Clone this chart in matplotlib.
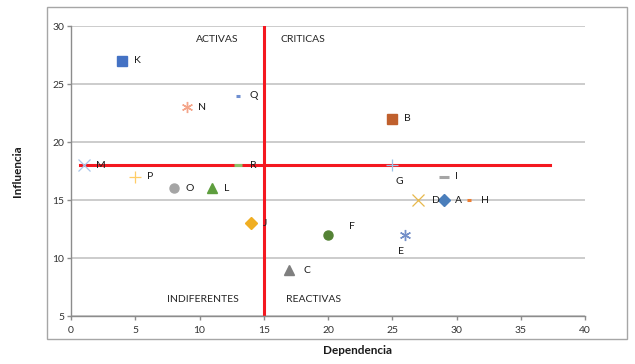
import matplotlib
matplotlib.use("Agg")
import matplotlib.pyplot as plt
from matplotlib.patches import Rectangle

plt.rcParams['font.family'] = ['Lato', 'DejaVu Sans']

names = ['A', 'B', 'C', 'D', 'E', 'F', 'G', 'H', 'I', 'J', 'K', 'L', 'M', 'N', 'O', 'P', 'Q', 'R']
dependencia = [29, 25, 17, 27, 26, 20, 25, 31, 29, 14, 4, 11, 1, 9, 8, 5, 13, 13]
influencia = [15, 22, 9, 15, 12, 12, 18, 15, 17, 13, 27, 16, 18, 23, 16, 17, 24, 18]

STAR = (6, 2, 0)
markers = ['D', 's', '^', 'x', STAR, 'o', '+', '_', '_', 'D', 's', '^', 'x', STAR, 'o', '+', '_', '_']
colors = ['#4A7EBB', '#C0602D', '#7F7F7F', '#E8B84A', '#7590C8', '#548235', '#9DC3E6', '#ED7D31', '#A5A5A5',
          '#F0AE22', '#4472C4', '#5E9E3E', '#A9C5EA', '#F4A58A', '#A5A5A5', '#FFCD66', '#6F8FD0', '#8CC168']
msizes = [6, 6.5, 6.5, 8, 8, 6.5, 8, 3.5, 7, 6, 6.5, 6.5, 8, 8, 6.5, 8, 3, 6]
mews = [1, 1, 1, 0.9, 1.0, 1, 0.9, 2.2, 2.2, 1, 1, 1, 0.9, 1.0, 1, 0.9, 2.2, 2.2]

# label offsets in points (dx, dy), default right of marker
offsets = {n: (8.5, 0) for n in names}
offsets['G'] = (5, -11.5)
offsets['E'] = (-3, -12)
offsets['F'] = (15, 6)
offsets['C'] = (10, -0.5)
offsets['D'] = (10, 0)

quadrants = ['ACTIVAS', 'CRITICAS', 'INDIFERENTES', 'REACTIVAS']
quad_x = [11.36, 18.05, 10.27, 18.9]
quad_y = [28.8, 28.8, 6.38, 6.38]

cut_x = 15
cut_y = 18

fig = plt.figure(figsize=(6.35, 3.64), dpi=100)
ax = fig.add_axes([71/635, 1-316/364, (585-71)/635, (316-26)/364])

fig.patches.append(Rectangle((47/635, 1-339/364), 580/635, 332/364, transform=fig.transFigure,
                             fill=False, edgecolor='#A6A6A6', linewidth=1.0))

ax.set_xlim(0, 40)
ax.set_ylim(5, 30)
ax.set_xticks(range(0, 41, 5))
ax.set_yticks(range(5, 31, 5))
ax.yaxis.grid(True, color='#C8C8C8', linewidth=1.3)
ax.set_axisbelow(True)
for s in ['top', 'right']:
    ax.spines[s].set_visible(False)
for s in ['left', 'bottom']:
    ax.spines[s].set_color('#8C8C8C')
    ax.spines[s].set_linewidth(1.0)
ax.tick_params(axis='both', colors='#8C8C8C', labelcolor='#333333', labelsize=7.5, length=3, width=1)
ax.tick_params(axis='y', pad=2)
ax.tick_params(axis='x', pad=4)

ax.plot([cut_x, cut_x], [5, 30], color='#F41820', linewidth=2.2, zorder=2)
ax.plot([0.7, 37.3], [cut_y, cut_y], color='#F41820', linewidth=2.2, zorder=2)

for n, x, y, m, c, ms, mew in zip(names, dependencia, influencia, markers, colors, msizes, mews):
    if m in ['x', '+', '_', STAR]:
        ax.plot([x], [y], linestyle='none', marker=m, markersize=ms, color=c, markeredgewidth=mew, zorder=3)
    else:
        ax.plot([x], [y], linestyle='none', marker=m, markersize=ms, color=c, markeredgecolor=c, zorder=3)
    dx, dy = offsets[n]
    ax.annotate(n, (x, y), xytext=(dx, dy), textcoords='offset points', fontsize=7.5,
                color='#1A1A1A', va='center', ha='center' if n in ('G', 'E') else 'left', zorder=4)

for t, x, y in zip(quadrants, quad_x, quad_y):
    ax.text(x, y, t, fontsize=7.5, color='#262626', ha='center', va='center')

fig.text(357/635, 1-350/364, 'Dependencia', fontsize=8.5, fontweight='bold', ha='center', va='center', color='#1A1A1A')
fig.text(17/635, 1-171/364, 'Influencia', fontsize=8.5, fontweight='bold', ha='center', va='center',
         rotation=90, color='#1A1A1A')

fig.savefig('out.png', dpi=100)
